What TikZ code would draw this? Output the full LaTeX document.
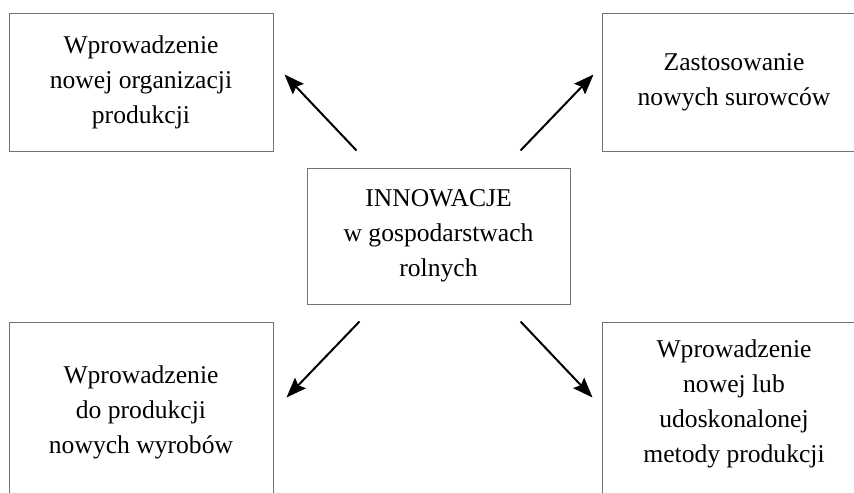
\documentclass[tikz,border=0pt]{standalone}
\usepackage{fontspec}
\setmainfont{Liberation Serif}
\usetikzlibrary{positioning}
\usetikzlibrary{arrows.meta}

\begin{document}
\begin{tikzpicture}[
        box/.style={draw=black!55, line width=0.5pt, rectangle, align=center,
            inner sep=0pt, font=\rmfamily\fontsize{12.8}{17.5}\selectfont},
    ]
        \useasboundingbox (0,0) rectangle (427pt,-246pt);
        \clip (0,0) rectangle (427pt,-246pt);

        \node[box, minimum width=131.5pt, minimum height=68pt] (inno) at (219.25pt,-118pt) {INNOWACJE\\ w gospodarstwach\\ rolnych};

        \node[box, minimum width=132pt, minimum height=68.5pt] (org) [above left=8pt and 16.5pt of inno] {Wprowadzenie\\ nowej organizacji\\ produkcji};
        \node[box, minimum width=132pt, minimum height=68.5pt] (sur) [above right=8pt and 15.5pt of inno] {Zastosowanie\\ nowych surowców};

        \node[box, minimum width=132pt, minimum height=90pt] (wyr) [below left=8.5pt and 16.5pt of inno] {Wprowadzenie\\ do produkcji\\ nowych wyrobów};
        \node[box, minimum width=132pt, minimum height=90pt] (met) [below right=8.5pt and 15.5pt of inno] {Wprowadzenie\\ nowej lub\\ udoskonalonej\\ metody produkcji\rule[-11pt]{0pt}{0pt}};

        \begin{scope}[-{Stealth[length=10pt, width=7.5pt, inset=1.5pt]}, line width=1pt]
            \draw ([shift={(25pt,8.5pt)}]inno.north west) -- ([shift={(5.5pt,38.5pt)}]org.south east);
            \draw ([shift={(-25pt,8.5pt)}]inno.north east) -- ([shift={(-4pt,38.5pt)}]sur.south west);
            \draw ([shift={(26.5pt,-8.5pt)}]inno.south west) -- ([shift={(6.5pt,-38pt)}]wyr.north east);
            \draw ([shift={(-25pt,-8.5pt)}]inno.south east) -- ([shift={(-4.5pt,-38pt)}]met.north west);
        \end{scope}

    \end{tikzpicture}
\end{document}
